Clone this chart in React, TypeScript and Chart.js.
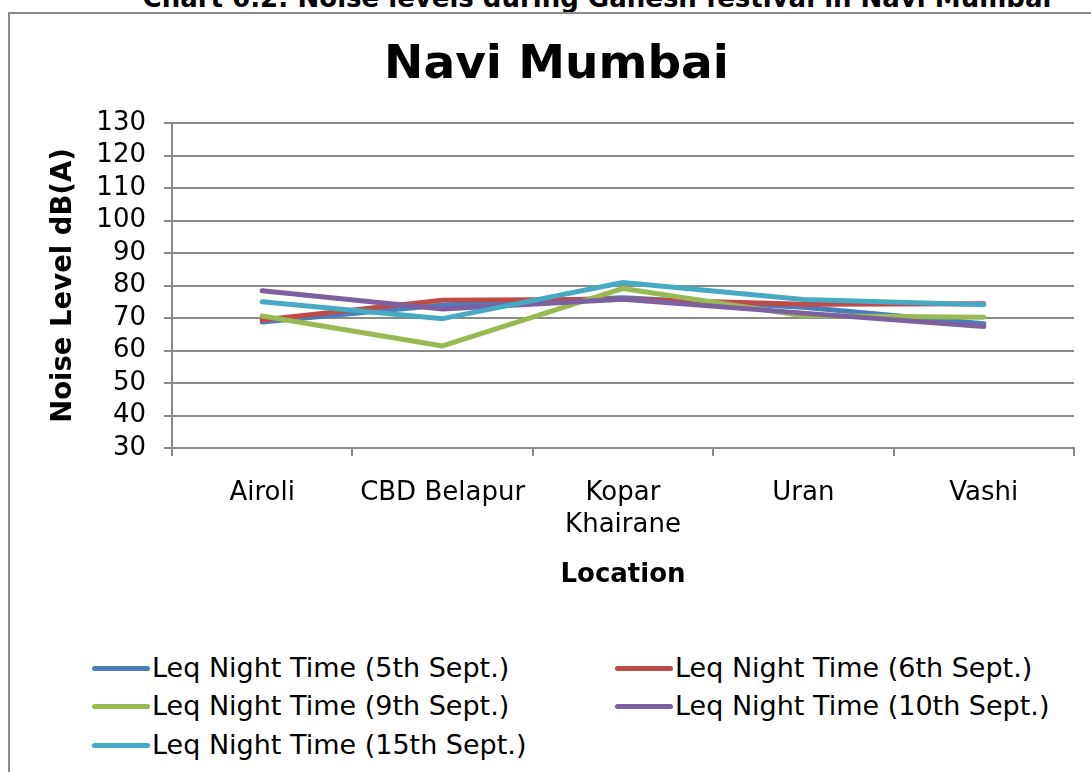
import React, { useEffect, useRef } from "react";
import { Chart, registerables } from "chart.js";

Chart.register(...registerables);

const FONT = "'DejaVu Sans', Verdana, sans-serif";

const pageTitle = "Chart 6.2: Noise levels during Ganesh festival in Navi Mumbai";
const chartTitle = "Navi Mumbai";
const xTitle = "Location";
const yTitle = "Noise Level dB(A)";

const categories: (string | string[])[] = ["Airoli", "CBD Belapur", ["Kopar", "Khairane"], "Uran", "Vashi"];

const seriesNames = [
  "Leq Night Time (5th Sept.)",
  "Leq Night Time (6th Sept.)",
  "Leq Night Time (9th Sept.)",
  "Leq Night Time (10th Sept.)",
  "Leq Night Time (15th Sept.)",
];

const leq5th = [68.8, 74.0, 76.2, 73.3, 68.2];
const leq6th = [69.4, 75.5, 75.8, 74.2, 74.4];
const leq9th = [70.6, 61.4, 79.1, 70.7, 70.2];
const leq10th = [78.4, 72.8, 75.8, 71.5, 67.4];
const leq15th = [75.0, 69.8, 80.9, 75.7, 74.1];

const seriesValues = [leq5th, leq6th, leq9th, leq10th, leq15th];
const seriesColors = ["#4A7EBB", "#BE4B48", "#98B954", "#7D60A0", "#46AAC5"];

const yMin = 30;
const yMax = 130;
const yStep = 10;

const GRID = "#8a8a8a";

export default function App() {
  const canvasRef = useRef<HTMLCanvasElement | null>(null);

  useEffect(() => {
    if (!canvasRef.current) return;
    const chart = new Chart(canvasRef.current, {
      type: "line",
      data: {
        labels: categories as any,
        datasets: seriesNames.map((name, i) => ({
          label: name,
          data: seriesValues[i],
          borderColor: seriesColors[i],
          backgroundColor: seriesColors[i],
          borderWidth: 5,
          pointRadius: 0,
          pointHoverRadius: 0,
          tension: 0,
          fill: false,
          borderCapStyle: "round",
          borderJoinStyle: "round",
          order: seriesNames.length - 1 - i,
        })),
      },
      options: {
        responsive: false,
        animation: false,
        events: [],
        layout: { padding: { left: 29, right: 29, top: 0, bottom: 0 } },
        plugins: {
          legend: { display: false },
          tooltip: { enabled: false },
          title: {
            display: true,
            text: chartTitle,
            color: "#000",
            font: { family: FONT, size: 47, weight: "bold", lineHeight: 1.2 },
            padding: { top: 24, bottom: 28.6 },
          },
        },
        scales: {
          x: {
            type: "category",
            offset: true,
            grid: {
              offset: true,
              drawOnChartArea: false,
              drawTicks: true,
              tickLength: 8,
              color: GRID,
              lineWidth: 2,
            },
            border: { color: GRID, width: 2 },
            ticks: {
              color: "#000",
              font: { family: FONT, size: 26, lineHeight: 1.2 },
              padding: 22,
              maxRotation: 0,
              minRotation: 0,
              autoSkip: false,
            },
            title: {
              display: true,
              text: xTitle,
              color: "#000",
              font: { family: FONT, size: 26, weight: "bold", lineHeight: 1.2 },
              padding: { top: 0, bottom: 0 },
            },
            afterFit: (s: any) => {
              s.height = 143;
            },
          },
          y: {
            min: yMin,
            max: yMax,
            grid: {
              color: GRID,
              lineWidth: 2,
              drawTicks: true,
              tickLength: 8,
            },
            border: { color: GRID, width: 2 },
            ticks: {
              stepSize: yStep,
              autoSkip: false,
              color: "#000",
              font: { family: FONT, size: 26, lineHeight: 1.2 },
              padding: 18,
            },
            title: {
              display: true,
              text: yTitle,
              color: "#000",
              font: { family: FONT, size: 27.5, weight: "bold", lineHeight: 1.2 },
              padding: { top: 8, bottom: 0 },
            },
            afterFit: (s: any) => {
              s.width = 133;
            },
          },
        },
      } as any,
    });
    return () => chart.destroy();
  }, []);

  const legendRows = [
    [0, 1],
    [2, 3],
    [4],
  ];
  const rowCenters = [668, 706, 745];
  const colLeft = [92, 615];

  return (
    <div
      style={{
        position: "fixed",
        left: 0,
        top: 0,
        width: 1091,
        height: 772,
        overflow: "hidden",
        background: "#fff",
        fontFamily: FONT,
      }}
    >
      <div
        style={{
          position: "absolute",
          left: 0,
          width: 1194,
          top: -15,
          fontSize: 26,
          lineHeight: "26px",
          fontWeight: "bold",
          textAlign: "center",
          whiteSpace: "nowrap",
          color: "#000",
        }}
      >
        {pageTitle}
      </div>
      <div
        style={{
          position: "absolute",
          left: 8,
          top: 12,
          width: 1200,
          height: 900,
          border: "2px solid #8c8c8c",
          boxSizing: "border-box",
        }}
      />
      <canvas
        ref={canvasRef}
        width={1093}
        height={577}
        style={{ position: "absolute", left: 10, top: 14, width: 1093, height: 577, display: "block" }}
      />
      {legendRows.map((row, r) =>
        row.map((si, c) => (
          <div
            key={si}
            style={{
              position: "absolute",
              left: colLeft[c],
              top: rowCenters[r] - 16,
              height: 32,
              display: "flex",
              alignItems: "center",
              whiteSpace: "nowrap",
            }}
          >
            <span
              style={{
                display: "inline-block",
                width: 58,
                height: 5,
                borderRadius: 3,
                background: seriesColors[si],
                marginRight: 2,
              }}
            />
            <span style={{ fontSize: 27, color: "#000", lineHeight: "32px" }}>{seriesNames[si]}</span>
          </div>
        ))
      )}
    </div>
  );
}
